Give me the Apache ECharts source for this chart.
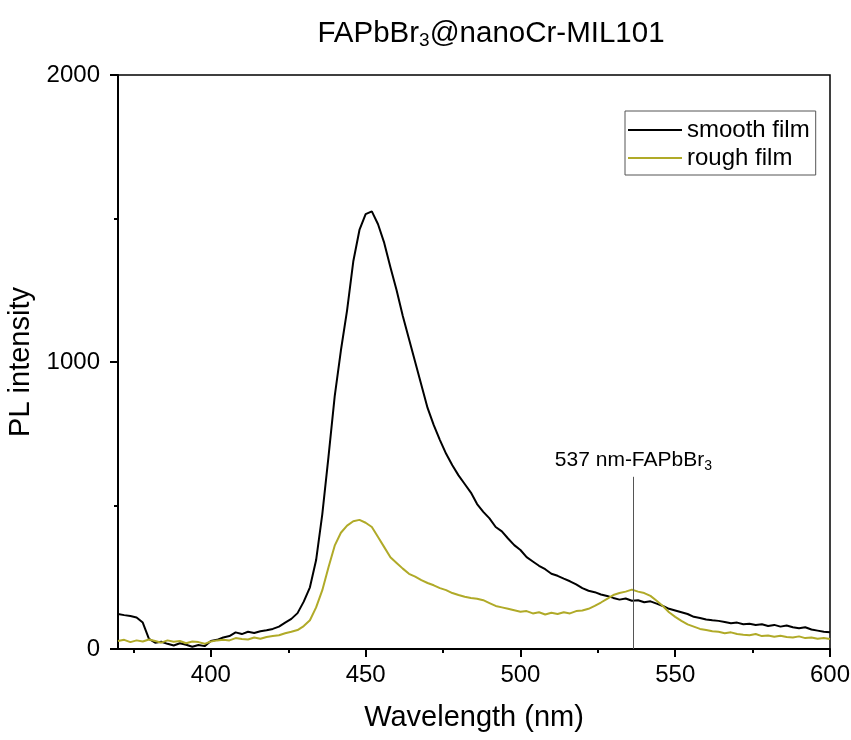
<!DOCTYPE html>
<html>
<head>
<meta charset="utf-8">
<script src="https://cdn.jsdelivr.net/npm/echarts@6/dist/echarts.min.js"></script>
<style>html,body{margin:0;padding:0;background:#fff}#c{width:851px;height:740px}</style>
</head>
<body>
<div id="c"></div>
<script>
const wavelengths = [];
for (let w = 370; w <= 600; w += 2) wavelengths.push(w);

const smoothFilm = [
122,118,115,110,92,35,22,25,18,12,20,15,8,14,10,
28,32,40,45,58,52,60,56,62,65,70,78,92,105,125,
165,215,310,470,670,880,1040,1180,1350,1460,1515,1525,1480,1415,1330,
1250,1160,1080,1000,920,840,780,728,680,640,605,575,545,505,478,
455,425,410,385,362,345,320,305,290,278,262,255,245,236,225,
212,203,198,190,185,178,172,176,168,170,163,166,158,150,140,
134,128,122,112,108,103,100,98,94,90,92,86,88,84,86,
80,84,78,82,76,72,76,68,64,60,58
];

const roughFilm = [
28,32,24,30,26,33,28,22,30,25,28,20,26,24,18,
26,30,32,30,38,35,33,40,36,42,45,48,55,60,66,
80,100,145,205,285,360,405,430,445,450,440,425,390,355,320,
300,280,262,252,240,230,222,212,205,195,188,182,178,175,170,
160,150,145,140,135,130,132,124,128,120,126,122,128,124,132,
134,140,150,162,175,188,195,200,207,200,195,185,168,150,128,
112,98,86,78,70,66,62,60,55,58,52,50,48,52,45,
47,43,46,42,40,44,38,40,36,38,35
];

const seriesNames = ['smooth film', 'rough film'];
const xMajorTicks = [400, 450, 500, 550, 600];
const xMinorTicks = [375, 425, 475, 525, 575];
const peakMarker = { x: 536.5, top: 600, label: '537 nm-FAPbBr' };

const font = 'Liberation Sans, Arial, sans-serif';
const chart = echarts.init(document.getElementById('c'));
chart.setOption({
  backgroundColor: '#fff',
  animation: false,
  textStyle: { fontFamily: font },
  title: {
    text: '{a|FAPbBr}{s|3}{a|@nanoCr-MIL101}',
    left: 486, top: 12, textAlign: 'center',
    textStyle: {
      fontWeight: 'normal',
      rich: {
        a: { fontSize: 29.5, fontFamily: font, color: '#000', fontWeight: 'normal' },
        s: { fontSize: 19, fontFamily: font, color: '#000', fontWeight: 'normal', padding: [14, 0, 0, 0] }
      }
    }
  },
  grid: { left: 118, right: 21, top: 75, bottom: 91, show: true, borderColor: '#000', borderWidth: 1.5, containLabel: false, outerBoundsMode: 'none' },
  legend: {
    orient: 'vertical', left: 625, top: 111,
    itemWidth: 54, itemHeight: 2, itemGap: 4,
    padding: [7, 6, 5, 3],
    icon: 'rect',
    borderColor: '#555', borderWidth: 1,
    textStyle: { fontSize: 24, color: '#000', fontFamily: font },
    data: seriesNames
  },
  xAxis: [{
    type: 'value', min: 370, max: 600,
    name: 'Wavelength (nm)', nameLocation: 'middle', nameGap: 54,
    nameTextStyle: { fontSize: 29, color: '#000', fontFamily: font },
    axisLine: { show: true, onZero: false, lineStyle: { color: '#000', width: 2 } },
    axisTick: { show: true, inside: false, length: 8, customValues: xMajorTicks, lineStyle: { color: '#000', width: 2 } },
    axisLabel: { customValues: xMajorTicks, fontSize: 24, color: '#000', margin: 14, fontFamily: font },
    splitLine: { show: false }
  }, {
    type: 'value', min: 370, max: 600, position: 'bottom',
    axisLine: { show: false },
    axisTick: { show: true, length: 4, customValues: xMinorTicks, lineStyle: { color: '#000', width: 2 } },
    axisLabel: { show: false },
    splitLine: { show: false }
  }],
  yAxis: {
    type: 'value', min: 0, max: 2000, interval: 1000,
    name: 'PL intensity', nameLocation: 'middle', nameGap: 76,
    nameTextStyle: { fontSize: 29, color: '#000', fontFamily: font },
    axisLine: { show: true, lineStyle: { color: '#000', width: 2 } },
    axisTick: { show: true, length: 8, lineStyle: { color: '#000', width: 2 } },
    minorTick: { show: true, splitNumber: 2, length: 4, lineStyle: { color: '#000', width: 2 } },
    axisLabel: { fontSize: 24, color: '#000', margin: 18, fontFamily: font, formatter: v => String(v) },
    splitLine: { show: false }
  },
  series: [{
    name: seriesNames[0], type: 'line', xAxisIndex: 0, symbol: 'none',
    lineStyle: { color: '#000', width: 2 }, itemStyle: { color: '#000' },
    data: wavelengths.map((w, i) => [w, smoothFilm[i]]),
    markLine: {
      silent: true, symbol: 'none',
      lineStyle: { color: '#555', width: 1, type: 'solid' },
      label: {
        show: true, position: 'end', distance: 4,
        formatter: '{a|' + peakMarker.label + '}{s|3}',
        rich: {
          a: { fontSize: 21, color: '#000', fontFamily: font },
          s: { fontSize: 14, color: '#000', fontFamily: font, padding: [11, 0, 0, 0] }
        }
      },
      data: [[{ coord: [peakMarker.x, 0] }, { coord: [peakMarker.x, peakMarker.top] }]]
    }
  }, {
    name: seriesNames[1], type: 'line', xAxisIndex: 0, symbol: 'none',
    lineStyle: { color: '#b0aa28', width: 2 }, itemStyle: { color: '#b0aa28' },
    data: wavelengths.map((w, i) => [w, roughFilm[i]])
  }]
});
</script>
</body>
</html>
